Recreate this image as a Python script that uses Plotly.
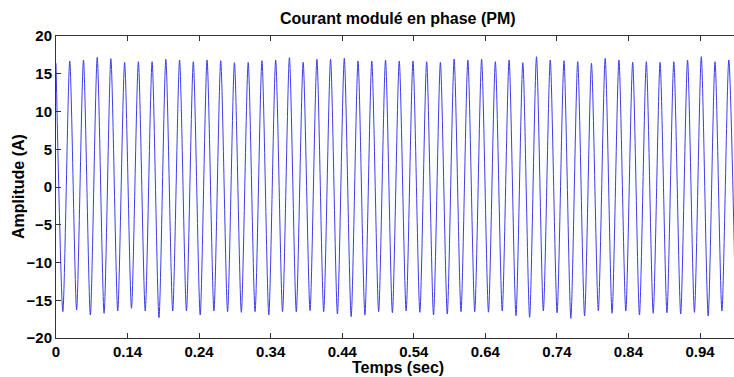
import plotly.graph_objects as go

# Extrema of the phase-modulated current
peak_times = [0.0, 0.0192, 0.0384, 0.0576, 0.0767, 0.0959, 0.1151, 0.1343, 0.1535, 0.1727,
              0.1919, 0.2111, 0.2302, 0.2494, 0.2686, 0.2878, 0.3070, 0.3262, 0.3454, 0.3646,
              0.3837, 0.4029, 0.4221, 0.4413, 0.4605, 0.4797, 0.4989, 0.5180, 0.5372, 0.5564,
              0.5756, 0.5948, 0.6140, 0.6332, 0.6524, 0.6715, 0.6907, 0.7099, 0.7291, 0.7483,
              0.7675, 0.7867, 0.8059, 0.8250, 0.8442, 0.8634, 0.8826, 0.9018, 0.9210, 0.9402]
peak_values = [16.38, 16.69, 16.82, 17.17, 17.00, 16.51, 16.60, 16.60, 16.91, 16.82,
               16.60, 16.82, 16.73, 16.47, 16.50, 16.73, 16.82, 17.13, 16.51, 16.91,
               16.91, 17.04, 16.69, 16.69, 16.82, 16.69, 16.69, 16.60, 16.51, 16.95,
               16.82, 16.91, 16.60, 16.82, 16.47, 17.26, 16.82, 16.73, 16.60, 16.38,
               17.04, 16.82, 16.51, 16.60, 16.51, 16.60, 16.82, 17.26, 16.60, 16.82]
trough_times = [0.0096, 0.0288, 0.0480, 0.0672, 0.0863, 0.1055, 0.1247, 0.1439, 0.1631, 0.1823,
                0.2015, 0.2207, 0.2398, 0.2590, 0.2782, 0.2974, 0.3166, 0.3358, 0.3550, 0.3741,
                0.3933, 0.4125, 0.4317, 0.4509, 0.4701, 0.4893, 0.5085, 0.5276, 0.5468, 0.5660,
                0.5852, 0.6044, 0.6236, 0.6428, 0.6619, 0.6811, 0.7003, 0.7195, 0.7387, 0.7579,
                0.7771, 0.7963, 0.8154, 0.8346, 0.8538, 0.8730, 0.8922, 0.9114, 0.9306, 0.9498]
trough_values = [-16.51, -16.29, -16.95, -16.73, -16.42, -16.07, -16.42, -17.31, -16.42, -16.42,
                 -16.95, -16.42, -16.51, -16.60, -16.51, -16.95, -16.51, -16.51, -16.38, -16.51,
                 -16.82, -17.17, -16.95, -16.51, -16.65, -16.42, -16.60, -16.95, -16.82, -16.51,
                 -16.51, -16.58, -16.42, -17.04, -17.26, -16.42, -16.65, -17.40, -17.09, -16.38,
                 -16.73, -16.42, -16.95, -16.73, -16.65, -16.82, -16.60, -17.09, -16.42, -16.60]

tick_positions = [0.0, 0.1, 0.2, 0.3, 0.4, 0.5, 0.6, 0.7, 0.8, 0.9]
tick_labels = ["0", "0.14", "0.24", "0.34", "0.44", "0.54", "0.64", "0.74", "0.84", "0.94"]
y_ticks = [-20, -15, -10, -5, 0, 5, 10, 15, 20]

t, v = [], []
for pt, pv, tt, tv in zip(peak_times, peak_values, trough_times, trough_values):
    t += [pt, tt]
    v += [pv, tv]

FONT = "Liberation Sans"
AX = "#333333"

fig = go.Figure(go.Scatter(x=t, y=v, mode="lines",
                           line=dict(color="rgb(40,40,235)", width=1, shape="spline", smoothing=0.7),
                           opacity=0.9, showlegend=False, hoverinfo="skip"))

fig.update_layout(
    width=734, height=377,
    margin=dict(l=56, r=0, t=36, b=39),
    paper_bgcolor="white", plot_bgcolor="white",
    font=dict(family=FONT, size=14, color="black"),
    annotations=[
        dict(text="<b>Courant modulé en phase (PM)</b>", xref="paper", yref="paper",
             x=0.504, y=1, yshift=18, xanchor="center", yanchor="middle",
             showarrow=False, font=dict(family=FONT, size=16, color="black")),
        dict(text="<b>Temps (sec)</b>", xref="paper", yref="paper",
             x=0.504, y=0, yshift=-29, xanchor="center", yanchor="middle",
             showarrow=False, font=dict(family=FONT, size=16, color="black")),
        dict(text="<b>Amplitude (A)</b>", xref="paper", yref="paper",
             x=0, xshift=-38, y=0.5, xanchor="center", yanchor="middle", textangle=-90,
             showarrow=False, font=dict(family=FONT, size=16, color="black")),
    ],
)
fig.update_xaxes(range=[0, 0.9475], tickmode="array", tickvals=tick_positions, ticktext=tick_labels,
                 ticks="inside", ticklen=5, tickcolor=AX, showline=True, linecolor=AX, linewidth=1,
                 mirror="ticks", showgrid=False, zeroline=False,
                 tickfont=dict(family=FONT, size=15, color="black", weight="bold"))
fig.update_yaxes(range=[-20, 20], tickmode="array", tickvals=y_ticks,
                 ticks="inside", ticklen=5, tickcolor=AX, showline=True, linecolor=AX, linewidth=1,
                 mirror=False, showgrid=False, zeroline=False,
                 tickfont=dict(family=FONT, size=15, color="black", weight="bold"))

fig.write_html("out.html")
